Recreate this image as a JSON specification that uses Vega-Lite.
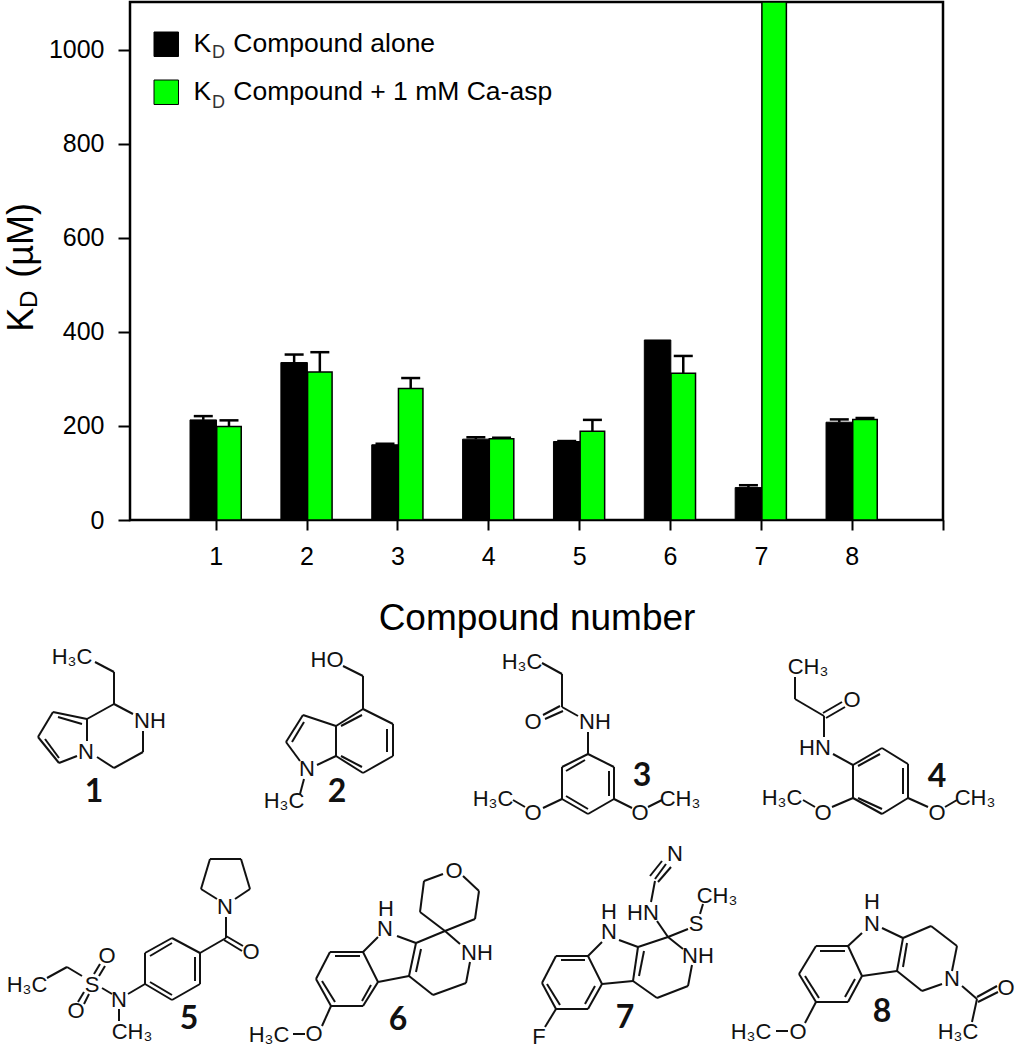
{"$schema":"https://vega.github.io/schema/vega-lite/v6.json","padding":{"left":2,"top":0,"right":0,"bottom":0},"background":"white","spacing":1,"datasets":{"bars":[{"compound":1,"series":"Compound alone","kd":213,"upper":221},{"compound":1,"series":"Compound + 1 mM Ca-asp","kd":199,"upper":212},{"compound":2,"series":"Compound alone","kd":335,"upper":352},{"compound":2,"series":"Compound + 1 mM Ca-asp","kd":315,"upper":357},{"compound":3,"series":"Compound alone","kd":160,"upper":162},{"compound":3,"series":"Compound + 1 mM Ca-asp","kd":280,"upper":302},{"compound":4,"series":"Compound alone","kd":172,"upper":176},{"compound":4,"series":"Compound + 1 mM Ca-asp","kd":173,"upper":175},{"compound":5,"series":"Compound alone","kd":167,"upper":168},{"compound":5,"series":"Compound + 1 mM Ca-asp","kd":189,"upper":213},{"compound":6,"series":"Compound alone","kd":383,"upper":null},{"compound":6,"series":"Compound + 1 mM Ca-asp","kd":312,"upper":349},{"compound":7,"series":"Compound alone","kd":69,"upper":74},{"compound":7,"series":"Compound + 1 mM Ca-asp","kd":1102,"upper":null},{"compound":8,"series":"Compound alone","kd":208,"upper":214},{"compound":8,"series":"Compound + 1 mM Ca-asp","kd":214,"upper":217}],"bonds":[{"c":1,"x1":95,"y1":663,"x2":114,"y2":673},{"c":1,"x1":114,"y1":673,"x2":114,"y2":705},{"c":1,"x1":114,"y1":705,"x2":133,"y2":715},{"c":1,"x1":143,"y1":732,"x2":143,"y2":753},{"c":1,"x1":143,"y1":753,"x2":114,"y2":769},{"c":1,"x1":114,"y1":769,"x2":97,"y2":758},{"c":1,"x1":114,"y1":705,"x2":87,"y2":720},{"c":1,"x1":87,"y1":720,"x2":87,"y2":742},{"c":1,"x1":77,"y1":757,"x2":59,"y2":764},{"c":1,"x1":59,"y1":764,"x2":38,"y2":738},{"c":1,"x1":38,"y1":738,"x2":53,"y2":713},{"c":1,"x1":53,"y1":713,"x2":87,"y2":720},{"c":1,"x1":58,"y1":718,"x2":82,"y2":725},{"c":1,"x1":59,"y1":759,"x2":45,"y2":740},{"c":2,"x1":343,"y1":667,"x2":363,"y2":677},{"c":2,"x1":363,"y1":677,"x2":363,"y2":710},{"c":2,"x1":363,"y1":710,"x2":393,"y2":725},{"c":2,"x1":393,"y1":725,"x2":393,"y2":757},{"c":2,"x1":393,"y1":757,"x2":363,"y2":774},{"c":2,"x1":363,"y1":774,"x2":336,"y2":757},{"c":2,"x1":336,"y1":757,"x2":336,"y2":727},{"c":2,"x1":336,"y1":727,"x2":363,"y2":710},{"c":2,"x1":341,"y1":727,"x2":362,"y2":716},{"c":2,"x1":387,"y1":730,"x2":387,"y2":753},{"c":2,"x1":341,"y1":757,"x2":362,"y2":768},{"c":2,"x1":336,"y1":727,"x2":303,"y2":716},{"c":2,"x1":303,"y1":716,"x2":286,"y2":743},{"c":2,"x1":286,"y1":743,"x2":300,"y2":762},{"c":2,"x1":317,"y1":766,"x2":336,"y2":757},{"c":2,"x1":304,"y1":723,"x2":292,"y2":743},{"c":2,"x1":304,"y1":780,"x2":300,"y2":795},{"c":3,"x1":542,"y1":664,"x2":562,"y2":675},{"c":3,"x1":562,"y1":675,"x2":562,"y2":708},{"c":3,"x1":560,"y1":707,"x2":543,"y2":716},{"c":3,"x1":563,"y1":712,"x2":545,"y2":720},{"c":3,"x1":562,"y1":708,"x2":578,"y2":717},{"c":3,"x1":588,"y1":733,"x2":588,"y2":755},{"c":3,"x1":588,"y1":755,"x2":614,"y2":768},{"c":3,"x1":614,"y1":768,"x2":614,"y2":800},{"c":3,"x1":614,"y1":800,"x2":588,"y2":815},{"c":3,"x1":588,"y1":815,"x2":562,"y2":800},{"c":3,"x1":562,"y1":800,"x2":562,"y2":768},{"c":3,"x1":562,"y1":768,"x2":588,"y2":755},{"c":3,"x1":585,"y1":761,"x2":566,"y2":772},{"c":3,"x1":609,"y1":772,"x2":609,"y2":797},{"c":3,"x1":566,"y1":797,"x2":588,"y2":810},{"c":3,"x1":562,"y1":800,"x2":543,"y2":809},{"c":3,"x1":525,"y1":808,"x2":513,"y2":801},{"c":3,"x1":614,"y1":800,"x2":632,"y2":809},{"c":3,"x1":648,"y1":808,"x2":662,"y2":801},{"c":4,"x1":795,"y1":678,"x2":795,"y2":700},{"c":4,"x1":795,"y1":700,"x2":824,"y2":717},{"c":4,"x1":823,"y1":714,"x2":842,"y2":703},{"c":4,"x1":826,"y1":719,"x2":845,"y2":708},{"c":4,"x1":824,"y1":717,"x2":824,"y2":738},{"c":4,"x1":833,"y1":755,"x2":853,"y2":766},{"c":4,"x1":853,"y1":766,"x2":882,"y2":749},{"c":4,"x1":882,"y1":749,"x2":908,"y2":765},{"c":4,"x1":908,"y1":765,"x2":908,"y2":799},{"c":4,"x1":908,"y1":799,"x2":882,"y2":815},{"c":4,"x1":882,"y1":815,"x2":853,"y2":799},{"c":4,"x1":853,"y1":799,"x2":853,"y2":766},{"c":4,"x1":858,"y1":767,"x2":880,"y2":755},{"c":4,"x1":903,"y1":769,"x2":903,"y2":795},{"c":4,"x1":858,"y1":799,"x2":882,"y2":810},{"c":4,"x1":853,"y1":799,"x2":832,"y2":808},{"c":4,"x1":815,"y1":808,"x2":803,"y2":801},{"c":4,"x1":908,"y1":799,"x2":928,"y2":808},{"c":4,"x1":945,"y1":808,"x2":957,"y2":801},{"c":5,"x1":47,"y1":979,"x2":67,"y2":968},{"c":5,"x1":67,"y1":968,"x2":82,"y2":977},{"c":5,"x1":94,"y1":975,"x2":100,"y2":965},{"c":5,"x1":99,"y1":977,"x2":105,"y2":967},{"c":5,"x1":84,"y1":993,"x2":78,"y2":1003},{"c":5,"x1":89,"y1":995,"x2":84,"y2":1005},{"c":5,"x1":102,"y1":989,"x2":112,"y2":995},{"c":5,"x1":119,"y1":1010,"x2":119,"y2":1022},{"c":5,"x1":128,"y1":995,"x2":145,"y2":985},{"c":5,"x1":145,"y1":985,"x2":145,"y2":954},{"c":5,"x1":145,"y1":954,"x2":172,"y2":939},{"c":5,"x1":172,"y1":939,"x2":200,"y2":954},{"c":5,"x1":200,"y1":954,"x2":200,"y2":985},{"c":5,"x1":200,"y1":985,"x2":172,"y2":1001},{"c":5,"x1":172,"y1":1001,"x2":145,"y2":985},{"c":5,"x1":150,"y1":957,"x2":172,"y2":944},{"c":5,"x1":195,"y1":958,"x2":195,"y2":982},{"c":5,"x1":150,"y1":983,"x2":172,"y2":996},{"c":5,"x1":200,"y1":954,"x2":226,"y2":939},{"c":5,"x1":226,"y1":939,"x2":226,"y2":918},{"c":5,"x1":226,"y1":937,"x2":243,"y2":947},{"c":5,"x1":224,"y1":941,"x2":242,"y2":952},{"c":5,"x1":217,"y1":900,"x2":201,"y2":890},{"c":5,"x1":201,"y1":890,"x2":210,"y2":860},{"c":5,"x1":210,"y1":860,"x2":241,"y2":860},{"c":5,"x1":241,"y1":860,"x2":250,"y2":890},{"c":5,"x1":250,"y1":890,"x2":235,"y2":900},{"c":6,"x1":443,"y1":875,"x2":424,"y2":882},{"c":6,"x1":424,"y1":882,"x2":420,"y2":913},{"c":6,"x1":420,"y1":913,"x2":445,"y2":932},{"c":6,"x1":445,"y1":932,"x2":475,"y2":920},{"c":6,"x1":475,"y1":920,"x2":479,"y2":892},{"c":6,"x1":479,"y1":892,"x2":463,"y2":877},{"c":6,"x1":445,"y1":932,"x2":460,"y2":945},{"c":6,"x1":470,"y1":963,"x2":466,"y2":984},{"c":6,"x1":466,"y1":984,"x2":433,"y2":996},{"c":6,"x1":433,"y1":996,"x2":409,"y2":977},{"c":6,"x1":445,"y1":932,"x2":416,"y2":944},{"c":6,"x1":416,"y1":944,"x2":409,"y2":977},{"c":6,"x1":421,"y1":950,"x2":416,"y2":973},{"c":6,"x1":416,"y1":944,"x2":397,"y2":937},{"c":6,"x1":378,"y1":938,"x2":363,"y2":953},{"c":6,"x1":409,"y1":977,"x2":378,"y2":983},{"c":6,"x1":363,"y1":953,"x2":330,"y2":953},{"c":6,"x1":330,"y1":953,"x2":316,"y2":980},{"c":6,"x1":316,"y1":980,"x2":331,"y2":1007},{"c":6,"x1":331,"y1":1007,"x2":363,"y2":1007},{"c":6,"x1":363,"y1":1007,"x2":378,"y2":983},{"c":6,"x1":378,"y1":983,"x2":363,"y2":953},{"c":6,"x1":335,"y1":957,"x2":360,"y2":957},{"c":6,"x1":322,"y1":982,"x2":335,"y2":1003},{"c":6,"x1":362,"y1":1002,"x2":371,"y2":986},{"c":6,"x1":331,"y1":1007,"x2":322,"y2":1027},{"c":6,"x1":293,"y1":1035,"x2":305,"y2":1035},{"c":7,"x1":655,"y1":880,"x2":666,"y2":865},{"c":7,"x1":650,"y1":877,"x2":662,"y2":862},{"c":7,"x1":658,"y1":883,"x2":671,"y2":868},{"c":7,"x1":655,"y1":882,"x2":651,"y2":903},{"c":7,"x1":657,"y1":922,"x2":668,"y2":938},{"c":7,"x1":668,"y1":938,"x2":688,"y2":930},{"c":7,"x1":700,"y1":915,"x2":703,"y2":905},{"c":7,"x1":668,"y1":938,"x2":683,"y2":950},{"c":7,"x1":692,"y1":966,"x2":688,"y2":987},{"c":7,"x1":688,"y1":987,"x2":657,"y2":999},{"c":7,"x1":657,"y1":999,"x2":633,"y2":982},{"c":7,"x1":668,"y1":938,"x2":638,"y2":948},{"c":7,"x1":638,"y1":948,"x2":633,"y2":982},{"c":7,"x1":644,"y1":952,"x2":639,"y2":977},{"c":7,"x1":638,"y1":948,"x2":619,"y2":941},{"c":7,"x1":602,"y1":943,"x2":588,"y2":957},{"c":7,"x1":633,"y1":982,"x2":602,"y2":985},{"c":7,"x1":588,"y1":957,"x2":556,"y2":957},{"c":7,"x1":556,"y1":957,"x2":542,"y2":984},{"c":7,"x1":542,"y1":984,"x2":556,"y2":1010},{"c":7,"x1":556,"y1":1010,"x2":588,"y2":1010},{"c":7,"x1":588,"y1":1010,"x2":602,"y2":985},{"c":7,"x1":602,"y1":985,"x2":588,"y2":957},{"c":7,"x1":561,"y1":961,"x2":585,"y2":961},{"c":7,"x1":547,"y1":985,"x2":560,"y2":1006},{"c":7,"x1":585,"y1":1005,"x2":595,"y2":987},{"c":7,"x1":556,"y1":1010,"x2":545,"y2":1028},{"c":8,"x1":882,"y1":929,"x2":903,"y2":939},{"c":8,"x1":903,"y1":939,"x2":931,"y2":927},{"c":8,"x1":931,"y1":927,"x2":957,"y2":947},{"c":8,"x1":957,"y1":947,"x2":952,"y2":972},{"c":8,"x1":942,"y1":985,"x2":922,"y2":992},{"c":8,"x1":922,"y1":992,"x2":897,"y2":972},{"c":8,"x1":903,"y1":939,"x2":897,"y2":972},{"c":8,"x1":907,"y1":944,"x2":903,"y2":968},{"c":8,"x1":897,"y1":972,"x2":862,"y2":977},{"c":8,"x1":862,"y1":934,"x2":848,"y2":947},{"c":8,"x1":848,"y1":947,"x2":816,"y2":947},{"c":8,"x1":816,"y1":947,"x2":799,"y2":975},{"c":8,"x1":799,"y1":975,"x2":816,"y2":1003},{"c":8,"x1":816,"y1":1003,"x2":848,"y2":1003},{"c":8,"x1":848,"y1":1003,"x2":862,"y2":977},{"c":8,"x1":862,"y1":977,"x2":848,"y2":947},{"c":8,"x1":820,"y1":952,"x2":845,"y2":952},{"c":8,"x1":805,"y1":977,"x2":819,"y2":999},{"c":8,"x1":845,"y1":998,"x2":855,"y2":980},{"c":8,"x1":816,"y1":1003,"x2":805,"y2":1024},{"c":8,"x1":776,"y1":1032,"x2":788,"y2":1032},{"c":8,"x1":962,"y1":987,"x2":977,"y2":1000},{"c":8,"x1":977,"y1":998,"x2":997,"y2":987},{"c":8,"x1":978,"y1":1003,"x2":998,"y2":993},{"c":8,"x1":977,"y1":1000,"x2":972,"y2":1023}],"atoms":[{"t":"H₃C","x":72,"y":658},{"t":"NH","x":150,"y":722},{"t":"N","x":86,"y":753},{"t":"HO","x":327,"y":661},{"t":"N","x":307,"y":770},{"t":"H₃C","x":284,"y":802},{"t":"H₃C","x":522,"y":663},{"t":"O","x":533,"y":723},{"t":"NH","x":595,"y":723},{"t":"O","x":533,"y":814},{"t":"H₃C","x":493,"y":800},{"t":"O","x":640,"y":814},{"t":"CH₃","x":680,"y":800},{"t":"CH₃","x":808,"y":668},{"t":"O","x":852,"y":701},{"t":"HN","x":815,"y":749},{"t":"O","x":823,"y":814},{"t":"H₃C","x":782,"y":799},{"t":"O","x":937,"y":814},{"t":"CH₃","x":975,"y":799},{"t":"H₃C","x":27,"y":986},{"t":"S","x":92,"y":986},{"t":"O","x":107,"y":957},{"t":"O","x":76,"y":1012},{"t":"N","x":119,"y":1001},{"t":"CH₃","x":132,"y":1033},{"t":"N","x":225,"y":908},{"t":"O","x":251,"y":953},{"t":"O","x":454,"y":872},{"t":"NH","x":477,"y":954},{"t":"N","x":385,"y":930},{"t":"H","x":386,"y":910},{"t":"O","x":314,"y":1035},{"t":"H₃C","x":269,"y":1036},{"t":"N","x":675,"y":855},{"t":"HN","x":643,"y":914},{"t":"S","x":696,"y":925},{"t":"CH₃","x":717,"y":897},{"t":"NH","x":698,"y":957},{"t":"N","x":609,"y":933},{"t":"H","x":609,"y":913},{"t":"F","x":539,"y":1038},{"t":"N","x":872,"y":925},{"t":"H","x":872,"y":903},{"t":"N","x":952,"y":980},{"t":"O","x":798,"y":1033},{"t":"H₃C","x":751,"y":1033},{"t":"O","x":1006,"y":989},{"t":"H₃C","x":958,"y":1033}],"numbers":[{"t":"1","x":94,"y":793},{"t":"2","x":337,"y":793},{"t":"3","x":642,"y":777},{"t":"4","x":937,"y":778},{"t":"5","x":189,"y":1020},{"t":"6","x":398,"y":1021},{"t":"7","x":625,"y":1019},{"t":"8","x":882,"y":1013}]},"vconcat":[{"width":813,"height":518,"view":{"stroke":"black","strokeWidth":2.5},"encoding":{"x":{"field":"compound","type":"quantitative","scale":{"domain":[0.057,9.005],"nice":false,"zero":false,"padding":0},"axis":{"values":[1,2,3,4,5,6,7,8,9],"labelExpr":"datum.value === 9 ? '' : datum.label","grid":false,"domain":false,"tickColor":"black","tickWidth":2,"tickSize":10,"labelFont":"Liberation Sans","labelFontSize":25,"labelColor":"black","labelPadding":14,"title":"Compound number","titleFont":"Liberation Sans","titleFontSize":37,"titleFontWeight":"normal","titleColor":"black","titlePadding":31}},"y":{"field":"kd","type":"quantitative","scale":{"domain":[0,1102],"nice":false},"axis":{"values":[0,200,400,600,800,1000],"format":"d","grid":false,"domain":false,"tickColor":"black","tickWidth":2,"tickSize":12,"labelFont":"Liberation Sans","labelFontSize":25,"labelColor":"black","labelPadding":14,"title":"K\u00a0\u00a0\u00a0(µM)","titleFont":"Liberation Sans","titleFontSize":36,"titleFontWeight":"normal","titleColor":"black","titleY":265,"titlePadding":8}}},"layer":[{"data":{"name":"bars"},"transform":[{"filter":"datum.series === 'Compound alone'"}],"mark":{"type":"bar","orient":"vertical","size":26.5,"xOffset":-12.4,"stroke":"black","strokeWidth":1},"encoding":{"fill":{"field":"series","type":"nominal","sort":null,"scale":{"domain":["Compound alone","Compound + 1 mM Ca-asp"],"range":["#000000","#00ff00"]},"legend":{"title":null,"orient":"none","legendX":23,"legendY":29,"symbolType":"square","symbolSize":600,"symbolStrokeColor":"black","symbolStrokeWidth":1,"rowPadding":19,"labelFont":"Liberation Sans","labelFontSize":26.5,"labelColor":"black","labelOffset":14,"labelLimit":500,"labelExpr":"'K\u00a0\u00a0\u00a0' + datum.label"}}}},{"data":{"name":"bars"},"transform":[{"filter":"datum.series !== 'Compound alone'"}],"mark":{"type":"bar","orient":"vertical","size":24.5,"xOffset":13.3,"stroke":"black","strokeWidth":1.5},"encoding":{"fill":{"field":"series","type":"nominal"}}},{"data":{"name":"bars"},"transform":[{"filter":"datum.series === 'Compound alone' && isValid(datum.upper)"}],"mark":{"type":"rule","xOffset":-12.4,"color":"black","strokeWidth":2.5},"encoding":{"y2":{"field":"upper"}}},{"data":{"name":"bars"},"transform":[{"filter":"datum.series === 'Compound alone' && isValid(datum.upper)"}],"mark":{"type":"tick","orient":"horizontal","size":19,"thickness":2.5,"xOffset":-12.4,"color":"black","opacity":1},"encoding":{"y":{"field":"upper","type":"quantitative"}}},{"data":{"name":"bars"},"transform":[{"filter":"datum.series !== 'Compound alone' && isValid(datum.upper)"}],"mark":{"type":"rule","xOffset":13.3,"color":"black","strokeWidth":2.5},"encoding":{"y2":{"field":"upper"}}},{"data":{"name":"bars"},"transform":[{"filter":"datum.series !== 'Compound alone' && isValid(datum.upper)"}],"mark":{"type":"tick","orient":"horizontal","size":19,"thickness":2.5,"xOffset":13.3,"color":"black","opacity":1},"encoding":{"y":{"field":"upper","type":"quantitative"}}},{"data":{"values":[{"t":"D","px":0.96,"py":983},{"t":"D","px":0.96,"py":877}]},"mark":{"type":"text","align":"left","baseline":"alphabetic","font":"Liberation Sans","fontSize":18,"color":"#333333"},"encoding":{"x":{"field":"px","type":"quantitative"},"y":{"field":"py","type":"quantitative"},"text":{"field":"t"}}},{"data":{"values":[{"t":"D","px":-0.967,"py":451}]},"mark":{"type":"text","align":"left","baseline":"alphabetic","angle":270,"font":"Liberation Sans","fontSize":24,"color":"black"},"encoding":{"x":{"field":"px","type":"quantitative"},"y":{"field":"py","type":"quantitative"},"text":{"field":"t"}}}]},{"width":887,"height":410,"view":{"stroke":null},"encoding":{"x":{"type":"quantitative","scale":{"domain":[130,1017],"nice":false,"zero":false},"axis":null},"y":{"type":"quantitative","scale":{"domain":[640,1050],"reverse":true,"nice":false,"zero":false},"axis":null}},"layer":[{"data":{"name":"bonds"},"mark":{"type":"rule","color":"#111111","strokeWidth":2},"encoding":{"x":{"field":"x1","type":"quantitative","axis":null},"y":{"field":"y1","type":"quantitative","axis":null},"x2":{"field":"x2"},"y2":{"field":"y2"}}},{"data":{"name":"atoms"},"mark":{"type":"text","font":"Liberation Sans","fontSize":22,"color":"#111111","align":"center","baseline":"middle"},"encoding":{"x":{"field":"x","type":"quantitative","axis":null},"y":{"field":"y","type":"quantitative","axis":null},"text":{"field":"t"}}},{"data":{"name":"numbers"},"mark":{"type":"text","font":"Lato","fontWeight":"bold","fontSize":32,"color":"#111111","align":"center","baseline":"middle"},"encoding":{"x":{"field":"x","type":"quantitative","axis":null},"y":{"field":"y","type":"quantitative","axis":null},"text":{"field":"t"}}}]}]}
